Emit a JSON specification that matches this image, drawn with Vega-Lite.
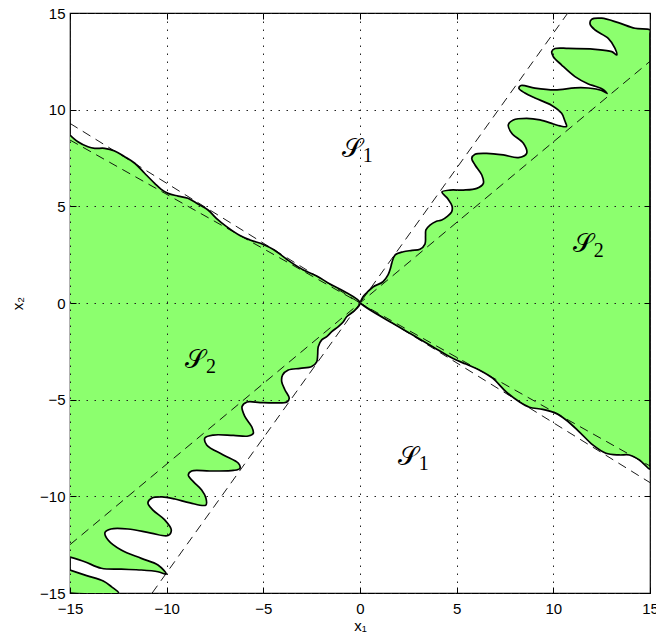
{
  "$schema": "https://vega.github.io/schema/vega-lite/v6.json",
  "width": 580,
  "height": 580,
  "autosize": {"type": "none"},
  "padding": {"left": 70, "top": 13, "right": 6, "bottom": 45},
  "background": "#ffffff",
  "config": {"view": {"stroke": "#000", "strokeWidth": 1.2}, "font": "Liberation Sans"},
  "datasets": {
    "regions": [
      {"id":"P1","o":0,"x":-15,"y":8.69},{"id":"P1","o":1,"x":-14.59,"y":8.34},{"id":"P1","o":2,"x":-14.07,"y":8.08},{"id":"P1","o":3,"x":-13.72,"y":8.0},{"id":"P1","o":4,"x":-13.21,"y":8.0},{"id":"P1","o":5,"x":-12.69,"y":7.86},{"id":"P1","o":6,"x":-12.17,"y":7.57},{"id":"P1","o":7,"x":-11.65,"y":7.23},{"id":"P1","o":8,"x":-11.14,"y":6.71},{"id":"P1","o":9,"x":-10.62,"y":6.19},{"id":"P1","o":10,"x":-10.28,"y":5.88},{"id":"P1","o":11,"x":-9.93,"y":5.67},{"id":"P1","o":12,"x":-9.41,"y":5.53},{"id":"P1","o":13,"x":-8.9,"y":5.42},{"id":"P1","o":14,"x":-8.38,"y":5.12},{"id":"P1","o":15,"x":-7.86,"y":4.81},{"id":"P1","o":16,"x":-7.43,"y":4.38},{"id":"P1","o":17,"x":-6.9,"y":3.95},{"id":"P1","o":18,"x":-6.21,"y":3.49},{"id":"P1","o":19,"x":-5.69,"y":3.26},{"id":"P1","o":20,"x":-5.0,"y":3.03},{"id":"P1","o":21,"x":-4.48,"y":2.77},{"id":"P1","o":22,"x":-3.62,"y":2.14},{"id":"P1","o":23,"x":-2.93,"y":1.71},{"id":"P1","o":24,"x":-2.24,"y":1.4},{"id":"P1","o":25,"x":-1.55,"y":0.98},{"id":"P1","o":26,"x":-0.86,"y":0.62},{"id":"P1","o":27,"x":0,"y":0},
      {"id":"P1","o":28,"x":-0.35,"y":-0.45},{"id":"P1","o":29,"x":-0.69,"y":-0.71},{"id":"P1","o":30,"x":-0.86,"y":-0.97},{"id":"P1","o":31,"x":-1.12,"y":-1.22},{"id":"P1","o":32,"x":-1.46,"y":-1.48},{"id":"P1","o":33,"x":-1.72,"y":-1.74},{"id":"P1","o":34,"x":-1.98,"y":-1.91},{"id":"P1","o":35,"x":-2.16,"y":-2.26},{"id":"P1","o":36,"x":-2.19,"y":-2.69},{"id":"P1","o":37,"x":-2.24,"y":-3.04},{"id":"P1","o":38,"x":-2.5,"y":-3.29},{"id":"P1","o":39,"x":-3.1,"y":-3.38},{"id":"P1","o":40,"x":-3.71,"y":-3.47},{"id":"P1","o":41,"x":-4.0,"y":-3.72},{"id":"P1","o":42,"x":-4.05,"y":-4.07},{"id":"P1","o":43,"x":-3.88,"y":-4.5},{"id":"P1","o":44,"x":-3.66,"y":-4.93},{"id":"P1","o":45,"x":-3.78,"y":-5.12},{"id":"P1","o":46,"x":-4.4,"y":-5.17},{"id":"P1","o":47,"x":-5.17,"y":-5.15},{"id":"P1","o":48,"x":-5.84,"y":-5.12},{"id":"P1","o":49,"x":-6.1,"y":-5.35},{"id":"P1","o":50,"x":-5.95,"y":-5.88},{"id":"P1","o":51,"x":-5.6,"y":-6.4},{"id":"P1","o":52,"x":-5.52,"y":-6.74},{"id":"P1","o":53,"x":-5.78,"y":-6.88},{"id":"P1","o":54,"x":-6.55,"y":-6.85},{"id":"P1","o":55,"x":-7.59,"y":-6.83},{"id":"P1","o":56,"x":-8.02,"y":-6.98},{"id":"P1","o":57,"x":-7.93,"y":-7.34},{"id":"P1","o":58,"x":-7.07,"y":-7.86},{"id":"P1","o":59,"x":-6.29,"y":-8.29},{"id":"P1","o":60,"x":-6.21,"y":-8.55},{"id":"P1","o":61,"x":-6.55,"y":-8.66},{"id":"P1","o":62,"x":-7.76,"y":-8.69},{"id":"P1","o":63,"x":-8.71,"y":-8.69},{"id":"P1","o":64,"x":-8.88,"y":-8.9},{"id":"P1","o":65,"x":-8.62,"y":-9.24},{"id":"P1","o":66,"x":-8.19,"y":-9.67},{"id":"P1","o":67,"x":-7.97,"y":-10.09},{"id":"P1","o":68,"x":-7.97,"y":-10.45},{"id":"P1","o":69,"x":-8.79,"y":-10.34},{"id":"P1","o":70,"x":-9.57,"y":-10.14},{"id":"P1","o":71,"x":-10.24,"y":-10.03},{"id":"P1","o":72,"x":-10.76,"y":-10.09},{"id":"P1","o":73,"x":-10.97,"y":-10.34},{"id":"P1","o":74,"x":-10.71,"y":-10.71},{"id":"P1","o":75,"x":-10.1,"y":-11.22},{"id":"P1","o":76,"x":-9.76,"y":-11.74},{"id":"P1","o":77,"x":-9.93,"y":-12.03},{"id":"P1","o":78,"x":-10.81,"y":-11.9},{"id":"P1","o":79,"x":-12.0,"y":-11.69},{"id":"P1","o":80,"x":-12.88,"y":-11.69},{"id":"P1","o":81,"x":-13.19,"y":-11.87},{"id":"P1","o":82,"x":-13.03,"y":-12.26},{"id":"P1","o":83,"x":-12.35,"y":-12.78},{"id":"P1","o":84,"x":-11.31,"y":-13.21},{"id":"P1","o":85,"x":-10.45,"y":-13.55},{"id":"P1","o":86,"x":-10.02,"y":-14.02},{"id":"P1","o":87,"x":-10.45,"y":-13.9},{"id":"P1","o":88,"x":-11.31,"y":-13.81},{"id":"P1","o":89,"x":-12.35,"y":-13.77},{"id":"P1","o":90,"x":-13.38,"y":-13.72},{"id":"P1","o":91,"x":-14.24,"y":-13.38},{"id":"P1","o":92,"x":-15,"y":-13.14},
      {"id":"P2","o":0,"x":0,"y":0},{"id":"P2","o":1,"x":0.16,"y":0.33},{"id":"P2","o":2,"x":0.36,"y":0.54},{"id":"P2","o":3,"x":0.67,"y":0.83},{"id":"P2","o":4,"x":1.19,"y":1.1},{"id":"P2","o":5,"x":1.45,"y":1.45},{"id":"P2","o":6,"x":1.58,"y":1.81},{"id":"P2","o":7,"x":1.64,"y":2.05},{"id":"P2","o":8,"x":1.81,"y":2.48},{"id":"P2","o":9,"x":2.24,"y":2.65},{"id":"P2","o":10,"x":2.69,"y":2.72},{"id":"P2","o":11,"x":3.1,"y":2.78},{"id":"P2","o":12,"x":3.36,"y":3.05},{"id":"P2","o":13,"x":3.39,"y":3.47},{"id":"P2","o":14,"x":3.41,"y":3.78},{"id":"P2","o":15,"x":3.62,"y":4.03},{"id":"P2","o":16,"x":3.93,"y":4.22},{"id":"P2","o":17,"x":4.23,"y":4.29},{"id":"P2","o":18,"x":4.5,"y":4.47},{"id":"P2","o":19,"x":4.74,"y":4.71},{"id":"P2","o":20,"x":4.76,"y":5.02},{"id":"P2","o":21,"x":4.55,"y":5.38},{"id":"P2","o":22,"x":4.24,"y":5.74},{"id":"P2","o":23,"x":4.66,"y":5.84},{"id":"P2","o":24,"x":5.34,"y":5.84},{"id":"P2","o":25,"x":6.04,"y":5.93},{"id":"P2","o":26,"x":6.38,"y":6.19},{"id":"P2","o":27,"x":6.3,"y":6.62},{"id":"P2","o":28,"x":5.95,"y":7.14},{"id":"P2","o":29,"x":5.78,"y":7.48},{"id":"P2","o":30,"x":5.95,"y":7.69},{"id":"P2","o":31,"x":6.55,"y":7.74},{"id":"P2","o":32,"x":7.41,"y":7.66},{"id":"P2","o":33,"x":8.19,"y":7.52},{"id":"P2","o":34,"x":8.62,"y":7.74},{"id":"P2","o":35,"x":8.45,"y":8.26},{"id":"P2","o":36,"x":7.85,"y":8.78},{"id":"P2","o":37,"x":7.67,"y":9.21},{"id":"P2","o":38,"x":7.93,"y":9.47},{"id":"P2","o":39,"x":8.62,"y":9.55},{"id":"P2","o":40,"x":9.31,"y":9.47},{"id":"P2","o":41,"x":10.0,"y":9.26},{"id":"P2","o":42,"x":10.34,"y":9.16},{"id":"P2","o":43,"x":10.68,"y":9.13},{"id":"P2","o":44,"x":10.6,"y":9.41},{"id":"P2","o":45,"x":10.43,"y":9.81},{"id":"P2","o":46,"x":9.92,"y":10.22},{"id":"P2","o":47,"x":9.05,"y":10.6},{"id":"P2","o":48,"x":8.53,"y":10.86},{"id":"P2","o":49,"x":8.22,"y":11.1},{"id":"P2","o":50,"x":8.33,"y":11.25},{"id":"P2","o":51,"x":9.05,"y":11.11},{"id":"P2","o":52,"x":10.09,"y":11.02},{"id":"P2","o":53,"x":11.12,"y":11.13},{"id":"P2","o":54,"x":11.81,"y":11.12},{"id":"P2","o":55,"x":12.5,"y":10.99},{"id":"P2","o":56,"x":12.78,"y":10.84},{"id":"P2","o":57,"x":12.57,"y":11.05},{"id":"P2","o":58,"x":12.16,"y":11.21},{"id":"P2","o":59,"x":11.81,"y":11.33},{"id":"P2","o":60,"x":11.12,"y":11.71},{"id":"P2","o":61,"x":10.43,"y":12.31},{"id":"P2","o":62,"x":10.0,"y":12.74},{"id":"P2","o":63,"x":9.92,"y":13.01},{"id":"P2","o":64,"x":10.09,"y":13.16},{"id":"P2","o":65,"x":10.77,"y":13.17},{"id":"P2","o":66,"x":12.16,"y":13.12},{"id":"P2","o":67,"x":13.02,"y":13.0},{"id":"P2","o":68,"x":13.28,"y":12.83},{"id":"P2","o":69,"x":13.19,"y":13.17},{"id":"P2","o":70,"x":12.84,"y":13.69},{"id":"P2","o":71,"x":12.16,"y":14.12},{"id":"P2","o":72,"x":11.9,"y":14.43},{"id":"P2","o":73,"x":11.98,"y":14.67},{"id":"P2","o":74,"x":12.5,"y":14.73},{"id":"P2","o":75,"x":13.36,"y":14.5},{"id":"P2","o":76,"x":14.22,"y":14.21},{"id":"P2","o":77,"x":15,"y":14.12},{"id":"P2","o":78,"x":15,"y":13.9},{"id":"P2","o":79,"x":15,"y":-8.4},{"id":"P2","o":80,"x":15,"y":-8.6},
      {"id":"P2","o":81,"x":14.45,"y":-8.12},{"id":"P2","o":82,"x":13.93,"y":-7.86},{"id":"P2","o":83,"x":13.41,"y":-7.86},{"id":"P2","o":84,"x":12.72,"y":-7.77},{"id":"P2","o":85,"x":12.04,"y":-7.34},{"id":"P2","o":86,"x":11.34,"y":-6.66},{"id":"P2","o":87,"x":10.66,"y":-6.05},{"id":"P2","o":88,"x":10.14,"y":-5.71},{"id":"P2","o":89,"x":9.45,"y":-5.5},{"id":"P2","o":90,"x":8.76,"y":-5.39},{"id":"P2","o":91,"x":8.24,"y":-5.11},{"id":"P2","o":92,"x":7.55,"y":-4.59},{"id":"P2","o":93,"x":6.86,"y":-3.89},{"id":"P2","o":94,"x":6.17,"y":-3.47},{"id":"P2","o":95,"x":5.48,"y":-3.16},{"id":"P2","o":96,"x":4.79,"y":-2.86},{"id":"P2","o":97,"x":3.76,"y":-2.26},{"id":"P2","o":98,"x":2.73,"y":-1.66},{"id":"P2","o":99,"x":1.69,"y":-1.05},{"id":"P2","o":100,"x":0.48,"y":-0.34},{"id":"P2","o":101,"x":0,"y":0},
      {"id":"P3","o":0,"x":-15,"y":-13.81},{"id":"P3","o":1,"x":-14.14,"y":-14.1},{"id":"P3","o":2,"x":-13.28,"y":-14.38},{"id":"P3","o":3,"x":-12.86,"y":-14.67},{"id":"P3","o":4,"x":-12.49,"y":-15},{"id":"P3","o":5,"x":-15,"y":-15}
    ],
    "dashes": [
      {"l":"a","x":-15,"y":-12.5},{"l":"a","x":15,"y":12.5},
      {"l":"b","x":-10.75,"y":-15},{"l":"b","x":10.75,"y":15},
      {"l":"c","x":-15,"y":9.29},{"l":"c","x":15,"y":-9.29},
      {"l":"d","x":-15,"y":8.43},{"l":"d","x":15,"y":-8.43}
    ],
    "labels": [
      {"s":"𝒮","sub":"1","x":-0.43,"y":7.97},
      {"s":"𝒮","sub":"2","x":11.52,"y":3.05},
      {"s":"𝒮","sub":"2","x":-8.53,"y":-2.95},
      {"s":"𝒮","sub":"1","x":2.47,"y":-7.99}
    ]
  },
  "layer": [
    {
      "data": {"name": "regions"},
      "mark": {"type": "line", "interpolate": "catmull-rom", "fill": "#8cff6e", "stroke": "#000", "strokeWidth": 1.7, "clip": true},
      "encoding": {
        "x": {"field": "x", "type": "quantitative", "scale": {"domain": [-15, 15], "nice": false, "zero": false},
          "axis": {"orient": "bottom", "values": [-15, -10, -5, 0, 5, 10, 15], "title": "x₁", "grid": true, "gridDash": [1.5, 6.5], "gridColor": "#222", "gridWidth": 1, "domain": false, "tickSize": -6, "tickColor": "#000", "tickWidth": 1, "labelPadding": 14, "labelFontSize": 15, "labelColor": "#000", "labelFont": "Liberation Sans", "labelFlush": false, "labelOverlap": false, "titleFont": "Liberation Sans", "titleFontSize": 15, "titleFontWeight": "normal", "titleColor": "#000", "titleX": 290, "titleY": 32, "titleBaseline": "middle", "titleAlign": "center", "zindex": 1}},
        "y": {"field": "y", "type": "quantitative", "scale": {"domain": [-15, 15], "nice": false, "zero": false},
          "axis": {"orient": "left", "values": [-15, -10, -5, 0, 5, 10, 15], "title": "x₂", "grid": true, "gridDash": [1.5, 6.5], "gridColor": "#222", "gridWidth": 1, "domain": false, "tickSize": -6, "tickColor": "#000", "tickWidth": 1, "labelPadding": 11, "labelFontSize": 15, "labelColor": "#000", "labelFont": "Liberation Sans", "labelFlush": false, "labelOverlap": false, "titleFont": "Liberation Sans", "titleFontSize": 15, "titleFontWeight": "normal", "titleColor": "#000", "titleX": -53, "titleY": 290, "titleAngle": -90, "titleBaseline": "middle", "titleAlign": "center", "zindex": 1}},
        "detail": {"field": "id"},
        "order": {"field": "o", "type": "quantitative"}
      }
    },
    {
      "data": {"name": "dashes"},
      "mark": {"type": "line", "stroke": "#000", "strokeWidth": 0.9, "strokeDash": [9, 6], "clip": true},
      "encoding": {
        "x": {"field": "x", "type": "quantitative", "scale": {"domain": [-15, 15], "nice": false, "zero": false},
          "axis": {"orient": "top", "values": [-15, -10, -5, 0, 5, 10, 15], "labels": false, "title": null, "grid": false, "domain": false, "tickSize": -6, "tickColor": "#000", "zindex": 1}},
        "y": {"field": "y", "type": "quantitative", "scale": {"domain": [-15, 15], "nice": false, "zero": false},
          "axis": {"orient": "right", "values": [-15, -10, -5, 0, 5, 10, 15], "labels": false, "title": null, "grid": false, "domain": false, "tickSize": -6, "tickColor": "#000", "zindex": 1}},
        "detail": {"field": "l"}
      }
    },
    {
      "data": {"name": "labels"},
      "mark": {"type": "text", "font": "DejaVu Serif", "fontSize": 26, "align": "center", "baseline": "middle", "color": "#000"},
      "encoding": {
        "x": {"field": "x", "type": "quantitative", "scale": {"domain": [-15, 15], "nice": false, "zero": false}, "axis": null},
        "y": {"field": "y", "type": "quantitative", "scale": {"domain": [-15, 15], "nice": false, "zero": false}, "axis": null},
        "text": {"field": "s"}
      }
    },
    {
      "data": {"name": "labels"},
      "mark": {"type": "text", "font": "Liberation Serif", "fontSize": 20, "align": "center", "baseline": "middle", "dx": 16, "dy": 7, "color": "#000"},
      "encoding": {
        "x": {"field": "x", "type": "quantitative", "scale": {"domain": [-15, 15], "nice": false, "zero": false}, "axis": null},
        "y": {"field": "y", "type": "quantitative", "scale": {"domain": [-15, 15], "nice": false, "zero": false}, "axis": null},
        "text": {"field": "sub"}
      }
    }
  ],
  "resolve": {"axis": {"x": "independent", "y": "independent"}}
}
